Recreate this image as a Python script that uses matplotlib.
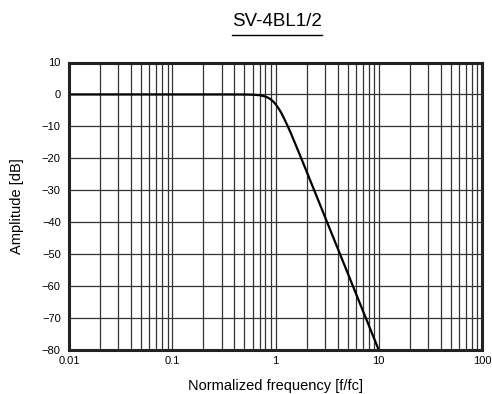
import matplotlib
matplotlib.use("Agg")
import matplotlib.pyplot as plt
from matplotlib.ticker import NullFormatter, LogLocator
from matplotlib.lines import Line2D

plt.rcParams['font.family'] = ['Liberation Sans', 'DejaVu Sans']

title = "SV-4BL1/2"
x_label = "Normalized frequency [f/fc]"
y_label = "Amplitude [dB]"

freq = [0.01, 0.1, 0.3, 0.5, 0.6, 0.7, 0.8, 0.85, 0.9, 0.95, 1.0, 1.05, 1.1, 1.15, 1.2,
        1.3, 1.4, 1.5, 1.7, 2.0, 2.5, 3.0, 4.0, 5.0, 7.0, 10.0]
amp = [0.0, 0.0, 0.0, -0.02, -0.07, -0.24, -0.67, -1.05, -1.56, -2.21, -3.01, -3.95,
       -4.97, -6.06, -7.24, -9.62, -11.94, -14.25, -18.50, -24.10, -31.84, -38.17,
       -48.16, -55.92, -67.61, -80.0]

x_ticks = [0.01, 0.1, 1, 10, 100]
x_tick_labels = ["0.01", "0.1", "1", "10", "100"]
y_ticks = [10, 0, -10, -20, -30, -40, -50, -60, -70, -80]
y_tick_labels = ["10", "0", "\u221210", "\u221220", "\u221230", "\u221240", "\u221250",
                 "\u221260", "\u221270", "\u221280"]

fig = plt.figure(figsize=(4.92, 3.94), dpi=100)
ax = fig.add_axes([69/492, 1-350/394, 413/492, (350-62.5)/394])

ax.plot(freq, amp, color='black', lw=1.6, zorder=3)
ax.set_xscale('log')
ax.set_xlim(0.01, 100)
ax.set_ylim(-80, 10)
ax.set_xticks(x_ticks)
ax.set_xticklabels(x_tick_labels)
ax.xaxis.set_minor_locator(LogLocator(base=10, subs=range(2, 10)))
ax.xaxis.set_minor_formatter(NullFormatter())
ax.set_yticks(y_ticks)
ax.set_yticklabels(y_tick_labels)
ax.grid(True, which='both', color='#333333', lw=0.9)
ax.tick_params(which='both', length=0, labelsize=8, colors='black')
ax.tick_params(axis='y', pad=6)
ax.tick_params(axis='x', pad=4)
for s in ax.spines.values():
    s.set_linewidth(2.2)
    s.set_color('#222222')
    s.set_zorder(4)

ax.set_xlabel(x_label, fontsize=10.5, labelpad=10)
ax.set_ylabel(y_label, fontsize=10.5, labelpad=13)

t = fig.text(277/492, 1-22/394, title, ha='center', va='center', fontsize=13.5)
fig.canvas.draw()
bb = t.get_window_extent().transformed(fig.transFigure.inverted())
yline = 1-34.5/394
fig.add_artist(Line2D([bb.x0, bb.x1], [yline, yline], color='black', lw=1.0,
                      transform=fig.transFigure))

fig.savefig("out.png", dpi=100)
